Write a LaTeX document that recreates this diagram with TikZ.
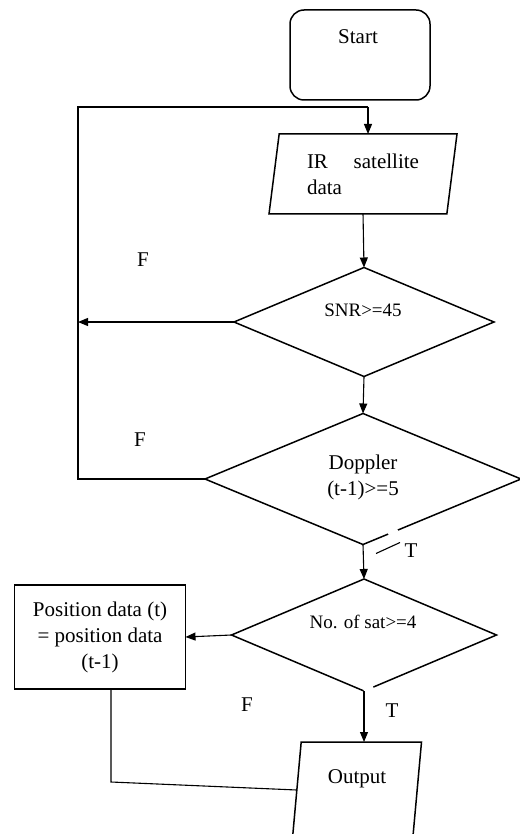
\documentclass[tikz,border=0pt]{standalone}
\usepackage{fontspec}
\setmainfont{Liberation Serif}
\usetikzlibrary{shapes,arrows,positioning,calc,arrows.meta}

\begin{document}
\begin{tikzpicture}[
    x=1pt, y=-1pt,
    outer sep=0pt,
    box/.style={draw, line width=1.5pt, inner sep=0pt},
    startbox/.style={box, rectangle, rounded corners=14pt, minimum width=140pt, minimum height=90pt},
    io/.style={box, trapezium, trapezium stretches body},
    dec/.style={box, diamond, aspect=2.4},
    proc/.style={box, rectangle, minimum width=171pt, minimum height=104pt},
    txt/.style={font=\fontsize{21}{26}\selectfont, inner sep=0pt, align=center},
    cond/.style={font=\fontsize{19}{24}\selectfont, inner sep=0pt},
    conn/.style={line width=1.1pt},
    arr/.style={conn, -{Triangle[length=10pt, width=8pt]}}
]
    \useasboundingbox (0,0) rectangle (519,834);

    % blocks
    \node [startbox] (start) at (360,55) {};
    \node [txt] (starttxt) at (358,37) {Start};
    \node [io, txt, trapezium left angle=76, trapezium right angle=104,
           minimum width=188pt, minimum height=80pt, text width=112pt, align=left] (ir) at (363,174) {IR\hfill satellite\\data};
    \node [dec, minimum width=260pt, minimum height=109pt] (snr) at (364,322) {};
    \node [cond] (snrtxt) at (363,310) {SNR>=45};
    \node [dec, minimum width=316pt, minimum height=131pt] (dop) at (363,479) {};
    \node [txt] (doptxt) at (363,477) {Doppler\\(t-1)>=5};
    \node [dec, minimum width=265pt, minimum height=112pt] (sat) at (364,635) {};
    \node [cond] (sattxt) at (363,622) {No. of sat>=4};
    \node [proc, txt] (pos) at (100,637) {Position data (t)\\= position data\\(t-1)};
    \node [io, txt, trapezium left angle=78, trapezium right angle=102, text depth=27pt,
           minimum width=129pt, minimum height=96pt] (out) at (357,790) {Output};

    % labels
    \node [txt] (f1) at (143,260) {F};
    \node [txt] (f2) at (140,440) {F};
    \node [txt] (t1) at (411,551) {T};
    \node [txt] (f3) at (247,705) {F};
    \node [txt] (t2) at (392,711) {T};

    % breaks in the diamonds
    \draw [white, line width=3pt] ($(dop.south)!0.16!(dop.east)$) -- ($(dop.south)!0.22!(dop.east)$);
    \draw [conn] ([shift={(13,9)}]dop.south) -- ([shift={(37,-2)}]dop.south);
    \draw [white, line width=3pt] (sat.south) -- ($(sat.south)!0.07!(sat.east)$);

    % connectors
    \coordinate (loop) at (78,107);
    \coordinate (loopin) at (368,107);
    \draw [conn] (dop.west) -| (loop) -- (loopin);
    \draw [arr] (loopin) -- (loopin |- ir.north);
    \draw [arr] (ir.south) -- (snr.north);
    \draw [arr] (snr.west) -- (snr.west -| loop);
    \draw [arr] (snr.south) -- (dop.north);
    \draw [arr] (dop.south) -- (sat.north);
    \draw [arr] (sat.west) -- (pos.east);
    \draw [arr] (sat.south) -- (sat.south |- out.north);
    \draw [conn] ([xshift=11pt]pos.south) -- ++(0,93) -- (out.west);
\end{tikzpicture}
\end{document}
